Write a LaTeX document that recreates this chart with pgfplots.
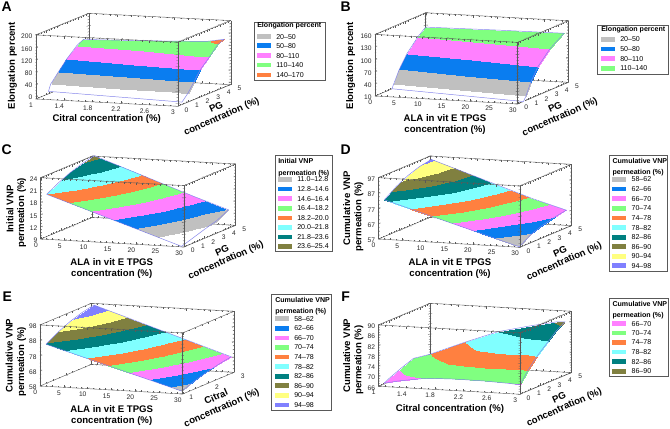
\documentclass[border=0pt]{standalone}
\usepackage{fontspec}
\setmainfont{Liberation Sans}
\usepackage{pgfplots}
\pgfplotsset{compat=1.18}
\definecolor{bgray}{RGB}{192,192,192}
\definecolor{bblue}{RGB}{10,125,240}
\definecolor{bpink}{RGB}{255,128,255}
\definecolor{bgreen}{RGB}{128,255,128}
\definecolor{borange}{RGB}{255,128,64}
\definecolor{bcyan}{RGB}{128,255,255}
\definecolor{bteal}{RGB}{0,128,128}
\definecolor{bolive}{RGB}{128,128,64}
\definecolor{byellow}{RGB}{255,255,128}
\definecolor{bviolet}{RGB}{128,128,255}
\definecolor{edgeblue}{RGB}{130,130,235}
\pgfplotsset{
  colormap={mapA}{color=(white) color=(bgray) color=(bblue) color=(bpink) color=(bgreen) color=(borange)},
  colormap={mapB}{color=(white) color=(bgray) color=(bblue) color=(bpink) color=(bgreen)},
  colormap={mapC}{color=(white) color=(bgray) color=(bblue) color=(bpink) color=(bgreen) color=(borange) color=(bcyan) color=(bteal) color=(bolive)},
  colormap={mapD}{color=(white) color=(bgray) color=(bblue) color=(bpink) color=(bgreen) color=(borange) color=(bcyan) color=(bteal) color=(bolive) color=(byellow) color=(bviolet)},
  colormap={mapF}{color=(bpink) color=(bgreen) color=(borange) color=(bcyan) color=(bteal) color=(bolive)},
  panel/.style={
    anchor=origin,
    3d box=complete,
    clip=false,
    scaled ticks=false,
    axis line style={black!65,line width=0.3pt},
    tick style={black!65,line width=0.25pt},
    major tick length=1.6pt,
    minor tick length=0.9pt,
    minor tick num=3,
    tick label style={font=\fontsize{5}{6}\selectfont,text=black!85},
    yticklabel style={xshift=1.5pt,yshift=2.5pt},
    xticklabel style={yshift=1pt},
    zticklabel style={xshift=1pt},
    /pgf/number format/assume math mode=true,
    /pgf/number format/fixed,
    colormap access=piecewise constant,
  },
  band/.style={surf,shader=interp,point meta=z},
  rim/.style={edgeblue,line width=0.35pt,no markers},
}
\newcommand{\ltxt}[3]{\node[font=\fontsize{7.2}{8.6}\selectfont\bfseries,align=center,rotate=#3] at #1 {#2};}
\newcommand{\pl}[2]{\node[font=\fontsize{10.5}{12}\selectfont\bfseries] at #1 {#2};}
\newcommand{\legent}[4]{\fill[#3] (#1,{428-#2-2.4}) rectangle ++(13.5,4.8);
  \node[anchor=west,inner sep=0pt,font=\fontsize{5.3}{6}\selectfont] at ({#1+19},{428-#2}) {#4};}
\begin{document}
\begin{tikzpicture}[x=0.75pt,y=0.75pt]
\path[use as bounding box] (0,0) rectangle (670,428);

% A
\begin{axis}[panel,at={(26.8pt,248.6pt)},
  x={(53.25pt,-2.74pt)},y={(7.95pt,3.25pt)},z={(0pt,0.231pt)},
  xmin=1,xmax=3,ymin=0,ymax=5,zmin=-8,zmax=200,
  xtick={1,1.4,1.8,2.2,2.6,3},ytick={0,1,2,3,4,5},ztick={0,40,80,120,160,200},
  colormap name=mapA,point meta min=-10,point meta max=170]
\addplot3[band] coordinates {
(1,1.2,0)(1,1.4,20)(1,2.14,50)(1,2.9,80)(1,3.85,110)(1,4.2,117)(1,4.5,122)

(2,0.8,0)(2,1.17,20)(2,1.84,50)(2,2.5,80)(2,3.42,110)(2,3.95,125)(2,4.44,130)

(2.75,0.5,0)(2.75,1.0,20)(2.75,1.62,50)(2.75,2.2,80)(2.75,3.1,110)(2.75,3.7,132)(2.75,4.38,138)

(3,0.4,0)(3,0.94,20)(3,1.54,50)(3,2.1,80)(3,2.99,110)(3,3.8,140)(3,4.37,148)
};
\addplot3[rim] coordinates {(1,1.2,0)(1,1.4,20)(1,2.14,50)(1,2.9,80)(1,3.85,110)(1,4.2,117)(1,4.5,122)(2,4.44,130)(2.75,4.38,138)(3,4.37,148)(3,3.8,140)(3,2.99,110)(3,2.1,80)(3,1.54,50)(3,0.94,20)(3,0.4,0)(2.75,0.5,0)(2,0.8,0)(1,1.2,0)};
\end{axis}

% B
\begin{axis}[panel,at={(281.25pt,249pt)},
  x={(3.567pt,-0.2pt)},y={(7.6pt,3.25pt)},z={(0pt,0.308pt)},
  xmin=0,xmax=30,ymin=0,ymax=5,zmin=10,zmax=160,
  xtick={0,5,10,15,20,25,30},ytick={0,1,2,3,4,5},ztick={10,40,70,100,130,160},
  colormap name=mapB,point meta min=-10,point meta max=140]
\addplot3[band] coordinates {
(0,1.67,10)(0,1.85,20)(0,2.4,50)(0,3.15,80)(0,4.25,110)(0,5,125)

(15,1.12,10)(15,1.33,20)(15,1.85,50)(15,2.58,80)(15,3.7,110)(15,4.79,130)

(30,0.57,10)(30,0.8,20)(30,1.3,50)(30,2.0,80)(30,3.15,110)(30,4.57,134)
};
\addplot3[rim] coordinates {(0,1.67,10)(0,1.85,20)(0,2.4,50)(0,3.15,80)(0,4.25,110)(0,5,125)(15,4.79,130)(30,4.57,134)(30,3.15,110)(30,2.0,80)(30,1.3,50)(30,0.8,20)(30,0.57,10)(15,1.12,10)(0,1.67,10)};
\end{axis}

% C
\begin{axis}[panel,at={(30.5pt,141.75pt)},
  x={(3.583pt,-0.2pt)},y={(7.75pt,3.25pt)},z={(0pt,3.067pt)},
  xmin=0,xmax=30,ymin=0,ymax=5,zmin=9,zmax=24,
  xtick={0,5,10,15,20,25,30},ytick={0,1,2,3,4,5},ztick={9,12,15,18,21,24},
  colormap name=mapC,point meta min=9.2,point meta max=25.4]
\addplot3[band] coordinates {
(1.25,0,20.0)(8.3,0,17.3)(15.4,0,14.55)(22.4,0,11.86)(29.5,0,9.12)

(1.04,1.25,21.5)(8.1,1.25,18.7)(15.1,1.25,15.9)(22.2,1.25,13.0)(29.25,1.25,9.9)

(0.83,2.5,22.7)(7.9,2.5,19.8)(14.9,2.5,16.9)(22,2.5,14.0)(29,2.5,10.7)

(0.61,3.75,23.5)(7.65,3.75,20.65)(14.7,3.75,17.7)(21.7,3.75,14.8)(28.75,3.75,11.4)

(0.4,5,24.1)(7.4,5,21.2)(14.45,5,18.3)(21.5,5,15.4)(28.5,5,12.7)
};
\addplot3[rim] coordinates {(1.25,0,20.0)(8.3,0,17.3)(15.4,0,14.55)(22.4,0,11.86)(29.5,0,9.12)(29.25,1.25,9.9)(29,2.5,10.7)(28.75,3.75,11.4)(28.5,5,12.7)(21.5,5,15.4)(14.45,5,18.3)(7.4,5,21.2)(0.4,5,24.1)(0.61,3.75,23.5)(0.83,2.5,22.7)(1.04,1.25,21.5)(1.25,0,20.0)};
\end{axis}

% D
\begin{axis}[panel,at={(283.75pt,141.75pt)},
  x={(3.54pt,-0.208pt)},y={(7.75pt,3.25pt)},z={(0pt,1.15pt)},
  xmin=0,xmax=30,ymin=0,ymax=5,zmin=57,zmax=97,
  xtick={0,5,10,15,20,25,30},ytick={0,1,2,3,4,5},ztick={57,67,77,87,97},
  colormap name=mapD,point meta min=54,point meta max=98]
\addplot3[band] coordinates {
(1.27,0,82.8)(8.42,0,76.4)(15.56,0,70.05)(22.7,0,63.7)(29.85,0,57.3)

(1.03,1.25,87.8)(8.18,1.25,80.8)(15.32,1.25,73.95)(22.47,1.25,67.1)(29.61,1.25,61.8)

(0.79,2.5,91.45)(7.94,2.5,84.16)(15.08,2.5,76.97)(22.23,2.5,69.78)(29.38,2.5,64.3)

(0.54,3.75,93.8)(7.69,3.75,86.41)(14.84,3.75,79.11)(21.99,3.75,71.8)(29.14,3.75,66)

(0.3,5,94.8)(7.45,5,87.6)(14.6,5,80.35)(21.75,5,73.1)(28.9,5,66.9)
};
\addplot3[rim] coordinates {(1.27,0,82.8)(8.42,0,76.4)(15.56,0,70.05)(22.7,0,63.7)(29.85,0,57.3)(29.61,1.25,61.8)(29.38,2.5,64.3)(29.14,3.75,66)(28.9,5,66.9)(21.75,5,73.1)(14.6,5,80.35)(7.45,5,87.6)(0.3,5,94.8)(0.54,3.75,93.8)(0.79,2.5,91.45)(1.03,1.25,87.8)(1.27,0,82.8)};
\end{axis}

% E
\begin{axis}[panel,at={(30pt,31.5pt)},
  x={(3.567pt,-0.2pt)},y={(19.25pt,8.125pt)},z={(0pt,1.145pt)},
  xmin=0,xmax=30,ymin=1,ymax=3,zmin=58,zmax=98,
  xtick={0,5,10,15,20,25,30},ytick={1,2,3},ztick={58,68,78,88,98},
  colormap name=mapD,point meta min=54,point meta max=98]
\addplot3[band] coordinates {
(1.26,1,85.57)(8.4,1,79.14)(15.53,1,72.72)(22.67,1,66.3)(29.8,1,59.88)

(1.085,1.5,89.9)(8.24,1.5,83.13)(15.39,1.5,76.29)(22.55,1.5,69.44)(29.7,1.5,62.68)

(0.91,2,93.24)(8.08,2,86.22)(15.26,2,79.1)(22.43,2,71.99)(29.6,2,64.98)

(0.735,2.5,95.58)(7.93,2.5,88.42)(15.12,2.5,81.19)(22.31,2.5,73.95)(29.5,2.5,66.79)

(0.56,3,96.94)(7.77,3,89.73)(14.98,3,82.52)(22.19,3,75.31)(29.4,3,68.1)
};
\addplot3[rim] coordinates {(1.26,1,85.57)(8.4,1,79.14)(15.53,1,72.72)(22.67,1,66.3)(29.8,1,59.88)(29.7,1.5,62.68)(29.6,2,64.98)(29.5,2.5,66.79)(29.4,3,68.1)(22.19,3,75.31)(14.98,3,82.52)(7.77,3,89.73)(0.56,3,96.94)(0.735,2.5,95.58)(0.91,2,93.24)(1.085,1.5,89.9)(1.26,1,85.57)};
\end{axis}

% F
\begin{axis}[panel,at={(283.75pt,31.3pt)},
  x={(53.1pt,-3pt)},y={(7.75pt,3.25pt)},z={(0pt,1.917pt)},
  xmin=1,xmax=3,ymin=0,ymax=5,zmin=66,zmax=90,
  xtick={1,1.4,1.8,2.2,2.6,3},ytick={0,1,2,3,4,5},ztick={66,70,74,78,82,86,90},
  colormap name=mapF,point meta min=66,point meta max=90]
\addplot3[band] coordinates {
(1.08,0,67.3)(1.08,0.57,68.5)(1.08,1.14,69.4)(1.08,1.72,70.5)(1.08,2.29,71.4)(1.08,2.86,72.2)

(1.3,0,68.6)(1.3,0.59,70.2)(1.3,1.18,71.2)(1.3,1.76,72.2)(1.3,2.35,73.1)(1.3,2.94,74)

(1.68,0,70.2)(1.68,0.74,72.2)(1.68,1.48,73.8)(1.68,2.23,75.2)(1.68,2.97,76.6)(1.68,3.71,78)

(2.085,0,70.5)(2.085,0.84,73.5)(2.085,1.67,76.7)(2.085,2.51,78.9)(2.085,3.34,80.5)(2.085,4.18,82)

(2.5,0,70.4)(2.5,0.92,74.5)(2.5,1.84,78.5)(2.5,2.76,80.9)(2.5,3.68,82.8)(2.5,4.6,84.3)

(2.85,0,70)(2.85,0.92,74.1)(2.85,1.84,78)(2.85,2.76,81.2)(2.85,3.68,84)(2.85,4.6,86.3)

(3,0,69.7)(3,0.87,74.5)(3,1.74,78.4)(3,2.61,81.5)(3,3.48,84.7)(3,4.35,87)
};
\addplot3[rim] coordinates {(1.08,0,67.3)(1.3,0,68.6)(1.68,0,70.2)(2.085,0,70.5)(2.5,0,70.4)(2.85,0,70)(3,0,69.7)(3,0.87,74.5)(3,1.74,78.4)(3,2.61,81.5)(3,3.48,84.7)(3,4.35,87)(2.85,4.6,86.3)(2.5,4.6,84.3)(2.085,4.18,82)(1.68,3.71,78)(1.3,2.94,74)(1.08,2.86,72.2)(1.08,1.72,70.5)(1.08,0.57,68.5)(1.08,0,67.3)};
\end{axis}

% panel letters and axis titles
\pl{(6.7,421.3)}{A}\pl{(345.7,421.3)}{B}\pl{(6.7,278)}{C}\pl{(345.7,278)}{D}\pl{(7.3,131.3)}{E}\pl{(345.7,131.3)}{F}

\ltxt{(106.7,309)}{Citral concentration (\%)}{0}
\ltxt{(12.3,362.3)}{Elongation percent}{90}
\ltxt{(216,321)}{PG}{24}
\ltxt{(221.7,311)}{concentration (\%)}{24}

\ltxt{(445,303.5)}{ALA in vit E TPGS\\concentration (\%)}{0}
\ltxt{(350.7,362.3)}{Elongation percent}{90}
\ltxt{(555,321)}{PG}{24}
\ltxt{(560,310.7)}{concentration (\%)}{24}

\ltxt{(111.7,159.6)}{ALA in vit E TPGS\\concentration (\%)}{0}
\ltxt{(10,219)}{Initial VNP}{90}
\ltxt{(21.7,215.3)}{permeation (\%)}{90}
\ltxt{(222,177.3)}{PG}{24}
\ltxt{(226,167.3)}{concentration (\%)}{24}

\ltxt{(450,159.6)}{ALA in vit E TPGS\\concentration (\%)}{0}
\ltxt{(346.7,219.7)}{Cumulative VNP}{90}
\ltxt{(359,211.3)}{permeation (\%)}{90}
\ltxt{(560,176.3)}{PG}{24}
\ltxt{(564.3,166.3)}{concentration (\%)}{24}

\ltxt{(111.7,12.5)}{ALA in vit E TPGS\\concentration (\%)}{0}
\ltxt{(9.3,72.3)}{Cumulative VNP}{90}
\ltxt{(21.7,66.3)}{permeation (\%)}{90}
\ltxt{(216,31.3)}{Citral}{24}
\ltxt{(221.7,19.7)}{concentration (\%)}{24}

\ltxt{(450,18.7)}{Citral concentration (\%)}{0}
\ltxt{(346.7,72.3)}{Cumulative VNP}{90}
\ltxt{(359,68)}{permeation (\%)}{90}
\ltxt{(559,30.7)}{PG}{24}
\ltxt{(564.3,20.3)}{concentration (\%)}{24}

% legends
\draw[black!65,line width=0.5pt] (254,348) rectangle (325,405.3);
\node[anchor=west,inner sep=0pt,font=\fontsize{5.3}{6}\selectfont\bfseries] at (257,402) {Elongation percent};
\legent{257}{36.7}{bgray}{20--50}\legent{257}{45.7}{bblue}{50--80}\legent{257}{55.7}{bpink}{80--110}\legent{257}{65}{bgreen}{110--140}\legent{257}{75}{borange}{140--170}

\draw[black!65,line width=0.5pt] (597.7,353.7) rectangle (668.3,403);
\node[anchor=west,inner sep=0pt,font=\fontsize{5.3}{6}\selectfont\bfseries] at (601,398.7) {Elongation percent};
\legent{601}{39.3}{bgray}{20--50}\legent{601}{49}{bblue}{50--80}\legent{601}{58.7}{bpink}{80--110}\legent{601}{68.3}{bgreen}{110--140}

\draw[black!65,line width=0.5pt] (275,176.3) rectangle (332,272.3);
\node[anchor=north west,inner sep=0pt,align=left,font=\fontsize{5.3}{9}\selectfont\bfseries] at (278,270) {Initial VNP\\permeation (\%)};
\legent{278}{179.3}{bgray}{11.0--12.8}\legent{278}{189}{bblue}{12.8--14.6}\legent{278}{198.7}{bpink}{14.6--16.4}\legent{278}{208.3}{bgreen}{16.4--18.2}\legent{278}{218}{borange}{18.2--20.0}\legent{278}{227.3}{bcyan}{20.0--21.8}\legent{278}{237}{bteal}{21.8--23.6}\legent{278}{246.3}{bolive}{23.6--25.4}

\draw[black!65,line width=0.5pt] (609.3,157) rectangle (667.7,272.3);
\node[anchor=north west,inner sep=0pt,align=left,font=\fontsize{5.3}{8.4}\selectfont\bfseries] at (612.3,270) {Cumulative VNP\\permeation (\%)};
\legent{612.3}{179.3}{bgray}{58--62}\legent{612.3}{189}{bblue}{62--66}\legent{612.3}{198.7}{bpink}{66--70}\legent{612.3}{208.3}{bgreen}{70--74}\legent{612.3}{218}{borange}{74--78}\legent{612.3}{227.7}{bcyan}{78--82}\legent{612.3}{237.3}{bteal}{82--86}\legent{612.3}{246.7}{bolive}{86--90}\legent{612.3}{256.3}{byellow}{90--94}\legent{612.3}{265.7}{bviolet}{94--98}

\draw[black!65,line width=0.5pt] (271.7,18) rectangle (331.7,133.7);
\node[anchor=north west,inner sep=0pt,align=left,font=\fontsize{5.3}{8.7}\selectfont\bfseries] at (275,131) {Cumulative VNP\\permeation (\%)};
\legent{275}{318.7}{bgray}{58--62}\legent{275}{328.3}{bblue}{62--66}\legent{275}{338}{bpink}{66--70}\legent{275}{347.3}{bgreen}{70--74}\legent{275}{357}{borange}{74--78}\legent{275}{366.7}{bcyan}{78--82}\legent{275}{376.3}{bteal}{82--86}\legent{275}{385.7}{bolive}{86--90}\legent{275}{395.3}{byellow}{90--94}\legent{275}{405}{bviolet}{94--98}

\draw[black!65,line width=0.5pt] (609,51.3) rectangle (668,130);
\node[anchor=north west,inner sep=0pt,align=left,font=\fontsize{5.3}{8.7}\selectfont\bfseries] at (612.3,127) {Cumulative VNP\\permeation (\%)};
\legent{612.3}{323.7}{bpink}{66--70}\legent{612.3}{333}{bgreen}{70--74}\legent{612.3}{342.3}{borange}{74--78}\legent{612.3}{352}{bcyan}{78--82}\legent{612.3}{361.7}{bteal}{82--86}\legent{612.3}{371.3}{bolive}{86--90}
\end{tikzpicture}
\end{document}
